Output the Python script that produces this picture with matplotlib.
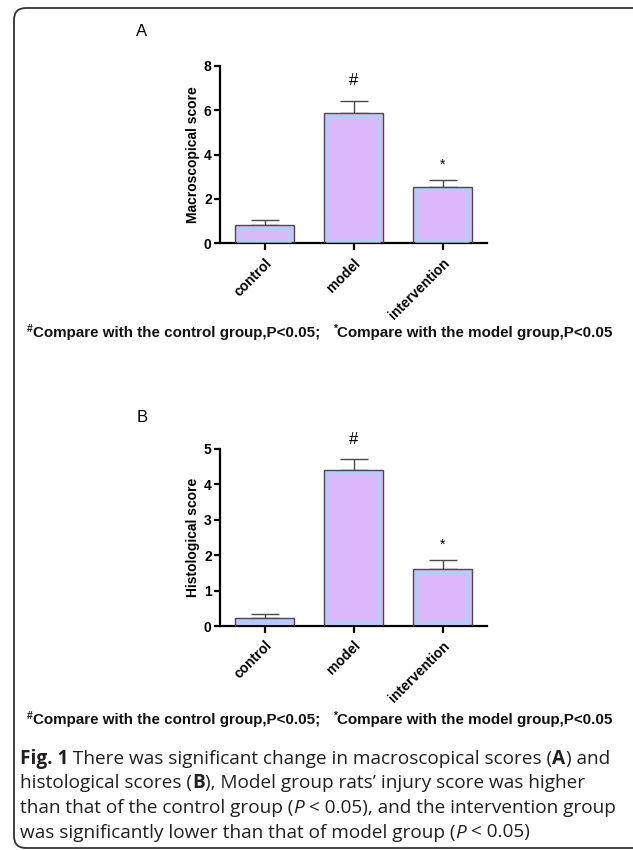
import numpy as np
import matplotlib
matplotlib.use("Agg")
import matplotlib.pyplot as plt
from matplotlib.patches import Rectangle, FancyBboxPatch
from matplotlib.transforms import IdentityTransform

groups = ["control", "model", "intervention"]
macro = [0.82, 5.85, 2.55]
macro_err = [0.23, 0.57, 0.30]
histo = [0.23, 4.41, 1.60]
histo_err = [0.10, 0.30, 0.26]
marks = ["", "#", "*"]

W, H = 633, 850
fill = "#dcb8fb"
inner = "#b8cbf6"
edge = "#4a4a4a"
bold_font = "Liberation Sans"

fig = plt.figure(figsize=(W / 100, H / 100), dpi=100)
fig.patch.set_facecolor("white")


def panel(rect, vals, errs, ylim, yticks, ylabel, letter, letter_y):
    ax = fig.add_axes(rect)
    x = np.arange(len(groups))
    ax.set_xlim(-0.5, 2.5)
    ax.set_ylim(*ylim)
    ax.errorbar(x, vals, yerr=[np.zeros(len(vals)), errs], fmt="none",
                ecolor=edge, elinewidth=1.0, capsize=10.4, capthick=1.0, zorder=1)
    bars = ax.bar(x, vals, width=0.66, color=fill, edgecolor="none", zorder=2)
    # light blue inner frame, inset a few pixels from the bar edge
    inv = ax.transData.inverted()
    p0 = inv.transform((0, 0))
    p1 = inv.transform((3.5, 3.5))
    dx, dy = p1[0] - p0[0], p1[1] - p0[1]
    for b in bars:
        bx, by = b.get_xy()
        r = Rectangle((bx + dx, by + dy * 0.8), b.get_width() - 2 * dx,
                      b.get_height() - 1.8 * dy, fill=False,
                      edgecolor=inner, lw=2.6, zorder=3)
        ax.add_patch(r)
    ax.bar(x, vals, width=0.66, fill=False, edgecolor=edge, lw=1.0, zorder=4)
    for xi, v, e, m in zip(x, vals, errs, marks):
        if m:
            ax.annotate(m, (xi, v + e), xytext=(0, 9 if m == "#" else 6),
                        textcoords="offset points", ha="center", va="bottom",
                        fontsize=12 if m == "#" else 10, family=bold_font)
    ax.set_yticks(yticks)
    ax.set_xticks(x)
    ax.set_xticklabels(groups, rotation=45, ha="right", va="top",
                       rotation_mode="anchor", fontsize=10, fontweight="bold",
                       family=bold_font)
    for lab in ax.get_yticklabels():
        lab.set_fontweight("bold")
        lab.set_family(bold_font)
        lab.set_fontsize(10)
    ax.set_ylabel(ylabel, fontsize=10, fontweight="bold", family=bold_font, labelpad=3)
    for s in ["top", "right"]:
        ax.spines[s].set_visible(False)
    for s in ["left", "bottom"]:
        ax.spines[s].set_linewidth(1.6)
    ax.tick_params(axis="both", width=1.6, length=4, pad=2)
    ax.tick_params(axis="x", length=5, pad=4)
    fig.text(142 / W, 1 - letter_y / H, letter, fontsize=12, family=bold_font,
             ha="center", va="center")
    return ax


panel([220 / W, 1 - 243.3 / H, 267 / W, 177.6 / H], macro, macro_err,
      (0, 8), [0, 2, 4, 6, 8], "Macroscopical score", "A", 31)
panel([220 / W, 1 - 626 / H, 267 / W, 177 / H], histo, histo_err,
      (0, 5), [0, 1, 2, 3, 4, 5], "Histological score", "B", 418)

fig.canvas.draw()
renderer = fig.canvas.get_renderer()


def runs(x, y, parts, **common):
    for txt, kw in parts:
        opts = dict(common)
        opts.update(kw)
        t = fig.text(x / W, 1 - y / H, txt, ha="left", va="baseline", **opts)
        x += t.get_window_extent(renderer).width
    return x


def footnote(y):
    base = dict(family=bold_font, fontweight="bold", color="#111111")
    parts = [("#", 7.5, 5),
             ("Compare with the control group,P<0.05;   ", 10.9, 0),
             ("*", 7.5, 5),
             ("Compare with the model group,P<0.05", 10.9, 0)]
    x = 27
    for txt, size, dy in parts:
        t = fig.text(x / W, 1 - (y - dy) / H, txt, ha="left", va="baseline",
                     fontsize=size, **base)
        x += t.get_window_extent(renderer).width


footnote(337)
footnote(724)

cap = dict(family="Open Sans", fontsize=13.7, color="#231f20")
B = dict(fontweight="bold")
I = dict(style="italic")
N = dict()
lines = [
    [("Fig. 1", B), (" There was significant change in macroscopical scores (", N),
     ("A", B), (") and", N)],
    [("histological scores (", N), ("B", B),
     ("), Model group rats\u2019 injury score was higher", N)],
    [("than that of the control group (", N), ("P", I),
     (" < 0.05), and the intervention group", N)],
    [("was significantly lower than that of model group (", N), ("P", I),
     (" < 0.05)", N)],
]
for i, ln in enumerate(lines):
    runs(20, 764 + i * 24.5, ln, **cap)

border = FancyBboxPatch((14, 2), 660, 840, boxstyle="round,pad=0,rounding_size=12",
                        fill=False, edgecolor="#333333", lw=1.3,
                        transform=IdentityTransform())
fig.add_artist(border)

fig.savefig("out.png", dpi=100)
